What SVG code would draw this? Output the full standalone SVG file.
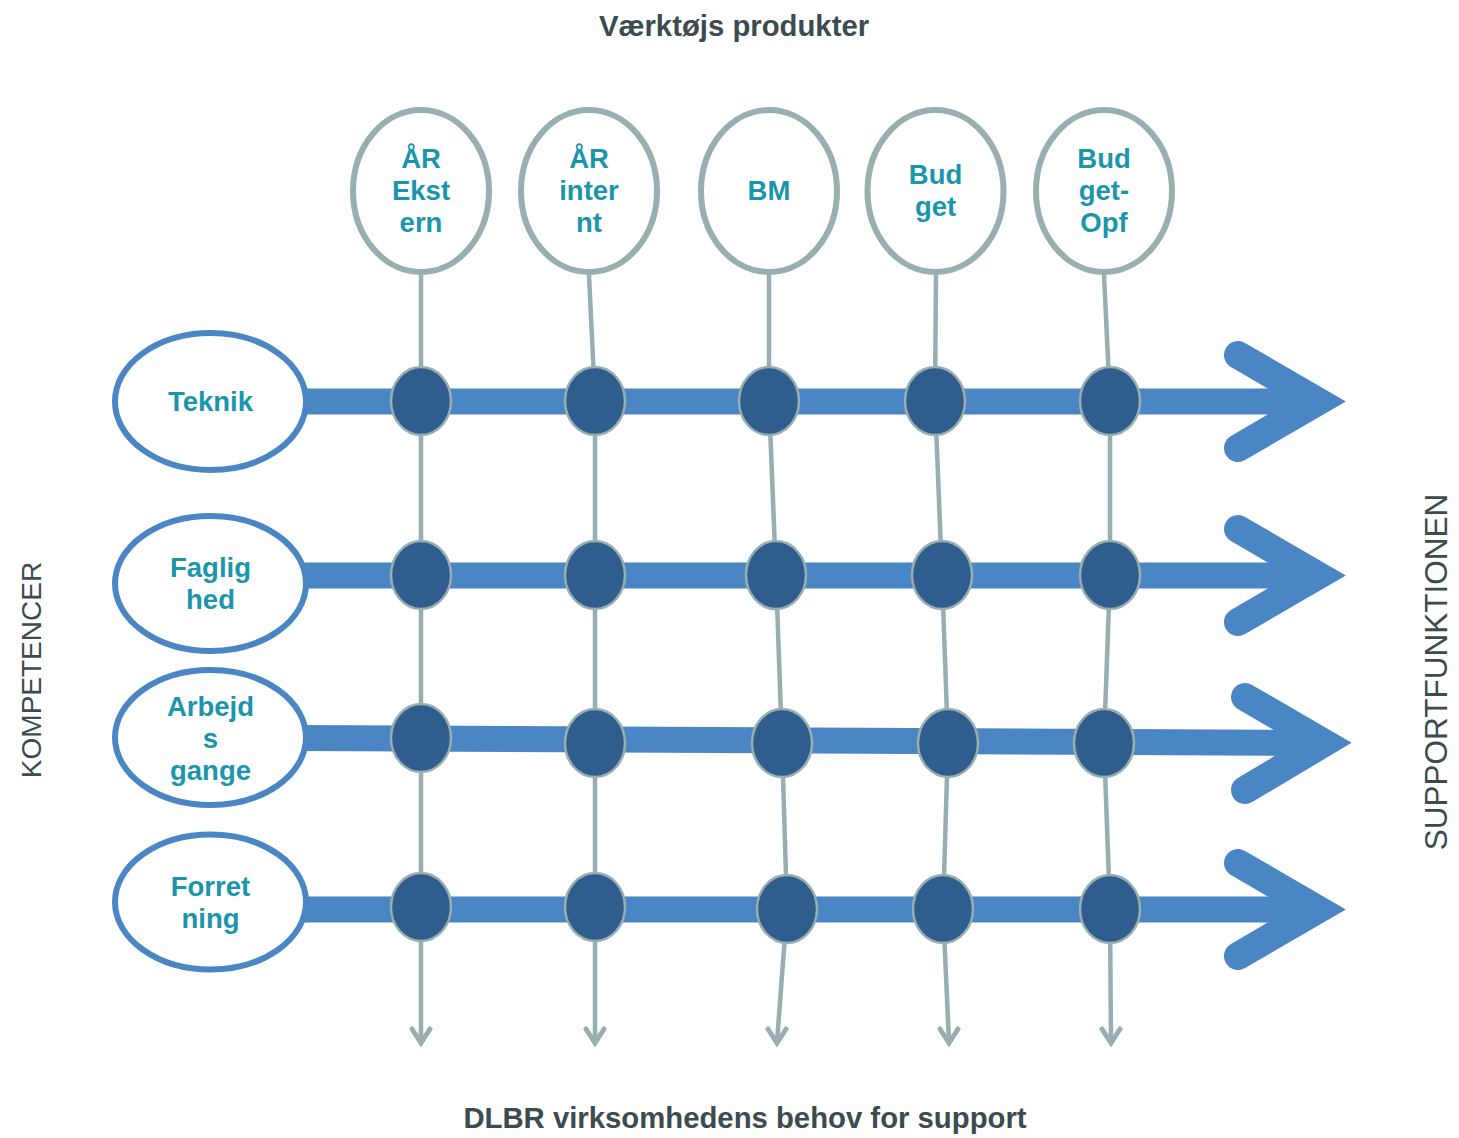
<svg xmlns="http://www.w3.org/2000/svg" width="1459" height="1138" viewBox="0 0 1459 1138">
<style>
.title{font-family:"Liberation Sans",Arial,sans-serif;font-weight:bold;font-size:29.3px;fill:#3c4b4f;text-anchor:middle}
.side{font-family:"Liberation Sans",Arial,sans-serif;font-size:28px;fill:#3c4b4f;text-anchor:middle}
.lbl{font-family:"Liberation Sans",Arial,sans-serif;font-weight:bold;font-size:27.5px;fill:#1b95ac;text-anchor:middle}
.top{fill:#fff;stroke:#98aeb0;stroke-width:6}
.left{fill:#fff;stroke:#4a86c3;stroke-width:6}
.vline{fill:none;stroke:#98aeb0;stroke-width:4.5}
.varrow{fill:none;stroke:#98aeb0;stroke-width:5;stroke-linecap:round;stroke-linejoin:miter}
.shaft{fill:none;stroke:#4a86c3;stroke-width:26}
.head{fill:none;stroke:#4a86c3;stroke-width:28;stroke-linecap:round;stroke-linejoin:miter;stroke-miterlimit:10}
.dot{fill:#2f5e8e;stroke:#98aeb0;stroke-width:2.5}
</style>

<text class="title" x="734" y="36">Værktøjs produkter</text>
<text class="title" x="745" y="1128">DLBR virksomhedens behov for support</text>
<text class="side" transform="translate(41,670) rotate(-90)">KOMPETENCER</text>
<text class="side" style="font-size:31.5px" transform="translate(1447,672) rotate(-90)">SUPPORTFUNKTIONEN</text>

<g id="connectors">
  <polyline class="vline" points="421,275 421,401 421,575 421,738 421,907 421,1042"/>
  <polyline class="vline" points="589,275 595,401 595,575 595,743 595,907 595,1042"/>
  <polyline class="vline" points="769,275 769,401 776,575 782,743 787,909 777,1042"/>
  <polyline class="vline" points="936,275 935,401 942,575 948,743 943,909 949,1042"/>
  <polyline class="vline" points="1104,275 1110,401 1110,575 1104,743 1110,909 1111,1042"/>
  <polyline class="varrow" points="412,1029 421,1043 430,1029"/>
  <polyline class="varrow" points="586,1029 595,1043 604,1029"/>
  <polyline class="varrow" points="768,1029 777,1043 786,1029"/>
  <polyline class="varrow" points="940,1029 949,1043 958,1029"/>
  <polyline class="varrow" points="1102,1029 1111,1043 1120,1029"/>

  <line class="shaft" x1="300" y1="401.5" x2="1318" y2="401.5"/>
  <polyline class="head" points="1238,355 1318,401.5 1238,448"/>
  <line class="shaft" x1="300" y1="575.5" x2="1318" y2="575.5"/>
  <polyline class="head" points="1238,529 1318,575.5 1238,622"/>
  <line class="shaft" x1="300" y1="738" x2="1324" y2="743"/>
  <polyline class="head" points="1245,697 1324,743 1245,790"/>
  <line class="shaft" x1="300" y1="909.5" x2="1318" y2="909.5"/>
  <polyline class="head" points="1238,863 1318,909.5 1238,956"/>
</g>

<g id="dots">
  <ellipse class="dot" cx="421" cy="401" rx="30" ry="34"/>
  <ellipse class="dot" cx="595" cy="401" rx="30" ry="34"/>
  <ellipse class="dot" cx="769" cy="401" rx="30" ry="34"/>
  <ellipse class="dot" cx="935" cy="401" rx="30" ry="34"/>
  <ellipse class="dot" cx="1110" cy="401" rx="30" ry="34"/>
  <ellipse class="dot" cx="421" cy="575" rx="30" ry="34"/>
  <ellipse class="dot" cx="595" cy="575" rx="30" ry="34"/>
  <ellipse class="dot" cx="776" cy="575" rx="30" ry="34"/>
  <ellipse class="dot" cx="942" cy="575" rx="30" ry="34"/>
  <ellipse class="dot" cx="1110" cy="575" rx="30" ry="34"/>
  <ellipse class="dot" cx="421" cy="738" rx="30" ry="34"/>
  <ellipse class="dot" cx="595" cy="743" rx="30" ry="34"/>
  <ellipse class="dot" cx="782" cy="743" rx="30" ry="34"/>
  <ellipse class="dot" cx="948" cy="743" rx="30" ry="34"/>
  <ellipse class="dot" cx="1104" cy="743" rx="30" ry="34"/>
  <ellipse class="dot" cx="421" cy="907" rx="30" ry="34"/>
  <ellipse class="dot" cx="595" cy="907" rx="30" ry="34"/>
  <ellipse class="dot" cx="787" cy="909" rx="30" ry="34"/>
  <ellipse class="dot" cx="943" cy="909" rx="30" ry="34"/>
  <ellipse class="dot" cx="1110" cy="909" rx="30" ry="34"/>
</g>

<g id="node-ar-ekstern">
  <ellipse class="top" cx="421" cy="191" rx="68" ry="81"/>
  <text class="lbl" x="421" y="168">ÅR</text>
  <text class="lbl" x="421" y="200">Ekst</text>
  <text class="lbl" x="421" y="232">ern</text>
</g>
<g id="node-ar-internt">
  <ellipse class="top" cx="589" cy="191" rx="68" ry="81"/>
  <text class="lbl" x="589" y="168">ÅR</text>
  <text class="lbl" x="589" y="200">inter</text>
  <text class="lbl" x="589" y="232">nt</text>
</g>
<g id="node-bm">
  <ellipse class="top" cx="769" cy="191" rx="68" ry="81"/>
  <text class="lbl" x="769" y="200">BM</text>
</g>
<g id="node-budget">
  <ellipse class="top" cx="935.5" cy="191" rx="68" ry="81"/>
  <text class="lbl" x="935.5" y="184">Bud</text>
  <text class="lbl" x="935.5" y="216">get</text>
</g>
<g id="node-budget-opf">
  <ellipse class="top" cx="1104" cy="191" rx="68" ry="81"/>
  <text class="lbl" x="1104" y="168">Bud</text>
  <text class="lbl" x="1104" y="200">get-</text>
  <text class="lbl" x="1104" y="232">Opf</text>
</g>

<g id="node-teknik">
  <ellipse class="left" cx="210.5" cy="401.5" rx="95.5" ry="68.5"/>
  <text class="lbl" x="210.5" y="411">Teknik</text>
</g>
<g id="node-faglighed">
  <ellipse class="left" cx="210.5" cy="583.5" rx="95.5" ry="67.5"/>
  <text class="lbl" x="210.5" y="577">Faglig</text>
  <text class="lbl" x="210.5" y="609">hed</text>
</g>
<g id="node-arbejdsgange">
  <ellipse class="left" cx="210.5" cy="737.5" rx="95.5" ry="67.5"/>
  <text class="lbl" x="210.5" y="716">Arbejd</text>
  <text class="lbl" x="210.5" y="748">s</text>
  <text class="lbl" x="210.5" y="780">gange</text>
</g>
<g id="node-forretning">
  <ellipse class="left" cx="210.5" cy="902" rx="95.5" ry="67.5"/>
  <text class="lbl" x="210.5" y="896">Forret</text>
  <text class="lbl" x="210.5" y="928">ning</text>
</g>
</svg>
